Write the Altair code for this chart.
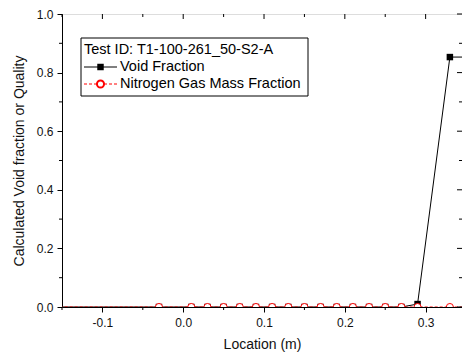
import altair as alt
import pandas as pd

# ---- data ----
location = [-0.19, -0.03, 0.01, 0.03, 0.05, 0.07, 0.09, 0.11, 0.13, 0.15,
            0.17, 0.19, 0.21, 0.23, 0.25, 0.27, 0.29, 0.33, 0.37]
void_fraction = [0.0, 0.0, 0.0, 0.0, 0.0, 0.0, 0.0, 0.0, 0.0, 0.0,
                 0.0, 0.0, 0.0, 0.0, 0.0, 0.0, 0.01, 0.853, 0.853]
nitrogen_fraction = [0.0] * 19

x_major = [-0.1, 0.0, 0.1, 0.2, 0.3]
x_minor = [-0.15, -0.05, 0.05, 0.15, 0.25]
y_major = [0.0, 0.2, 0.4, 0.6, 0.8, 1.0]
y_minor = [0.1, 0.3, 0.5, 0.7, 0.9]

legend_title = "Test ID: T1-100-261_50-S2-A"
legend_labels = ["Void Fraction", "Nitrogen Gas Mass Fraction"]

W, H = 400, 293
FONT = "Liberation Sans"
LFS = 14.5
LBL = "datum.value < 0 ? '-' + format(-datum.value, '.1f') : format(datum.value, '.1f')"

one = pd.DataFrame({"a": [0]})

xs = alt.Scale(domain=[-0.15, 0.345], nice=False, zero=False)
ys = alt.Scale(domain=[0, 1], nice=False, zero=False)

x_axis = alt.Axis(title="Location (m)", values=x_major, labelExpr=LBL, tickSize=5,
                  tickColor="black", domainColor="black", labelFontSize=12,
                  labelColor="#111111", titleFontSize=14, titleFontWeight="normal",
                  titleColor="#111111", labelPadding=5, titlePadding=9, grid=False,
                  labelFlush=False, labelFont=FONT, titleFont=FONT)
y_axis = alt.Axis(title="Calculated Void fraction or Quality", values=y_major, labelExpr=LBL,
                  tickSize=5, tickColor="black", domainColor="black", labelFontSize=12,
                  labelColor="#111111", titleFontSize=14, titleFontWeight="normal",
                  titleColor="#111111", labelPadding=4, titlePadding=10, grid=False,
                  labelFlush=False, labelFont=FONT, titleFont=FONT)

X = alt.X("loc:Q", scale=xs, axis=x_axis)
Y = alt.Y("val:Q", scale=ys, axis=y_axis)

void_df = pd.DataFrame({"loc": location, "val": void_fraction})
n2_df = pd.DataFrame({"loc": location, "val": nitrogen_fraction})

void_line = alt.Chart(void_df).mark_line(color="black", strokeWidth=1, clip=True).encode(x=X, y=Y)
void_pts = alt.Chart(void_df).mark_point(shape="square", filled=True, color="black", size=42,
                                         opacity=1, clip=True).encode(x=X, y=Y)
n2_line = alt.Chart(n2_df).mark_line(color="red", strokeWidth=1, strokeDash=[3, 2], clip=True).encode(x=X, y=Y)
n2_pts = alt.Chart(n2_df).mark_point(shape="circle", filled=False, stroke="red", fill="white",
                                     fillOpacity=1, strokeWidth=1, size=50, opacity=1,
                                     clip=True).encode(x=X, y=Y)

# ---- axis furniture: minor ticks (bottom/left, outward), mirror ticks (top/right, inward)
xmaj_df = pd.DataFrame({"loc": x_major})
xmin_df = pd.DataFrame({"loc": x_minor})
ymaj_df = pd.DataFrame({"val": y_major})
ymin_df = pd.DataFrame({"val": y_minor})

bottom_minor = alt.Chart(xmin_df).mark_rule(color="black", strokeWidth=1).encode(
    x=X, y=alt.value(H), y2=alt.value(H + 3))
top_major = alt.Chart(xmaj_df).mark_rule(color="black", strokeWidth=1).encode(
    x=X, y=alt.value(0), y2=alt.value(5))
top_minor = alt.Chart(xmin_df).mark_rule(color="black", strokeWidth=1).encode(
    x=X, y=alt.value(0), y2=alt.value(3))
left_minor = alt.Chart(ymin_df).mark_rule(color="black", strokeWidth=1).encode(
    y=Y, x=alt.value(-3), x2=alt.value(0))
right_major = alt.Chart(ymaj_df).mark_rule(color="black", strokeWidth=1).encode(
    y=Y, x=alt.value(W - 5), x2=alt.value(W))
right_minor = alt.Chart(ymin_df).mark_rule(color="black", strokeWidth=1).encode(
    y=Y, x=alt.value(W - 3), x2=alt.value(W))

# ---- legend box ----
leg_box = alt.Chart(one).mark_rect(fill="white", stroke="black", strokeWidth=1).encode(
    x=alt.value(19), x2=alt.value(246), y=alt.value(24), y2=alt.value(82))
leg_title = alt.Chart(one).mark_text(align="left", baseline="middle", fontSize=LFS, font=FONT,
                                     color="black").encode(
    x=alt.value(22), y=alt.value(36), text=alt.value(legend_title))
leg_l1 = alt.Chart(one).mark_rule(color="black", strokeWidth=1).encode(
    x=alt.value(22), x2=alt.value(55), y=alt.value(53))
leg_p1 = alt.Chart(one).mark_point(shape="square", filled=True, color="black", size=42,
                                   opacity=1).encode(x=alt.value(38.5), y=alt.value(53))
leg_t1 = alt.Chart(one).mark_text(align="left", baseline="middle", fontSize=LFS, font=FONT,
                                  color="black").encode(
    x=alt.value(58), y=alt.value(53), text=alt.value(legend_labels[0]))
leg_l2 = alt.Chart(one).mark_rule(color="red", strokeWidth=1, strokeDash=[3, 2]).encode(
    x=alt.value(22), x2=alt.value(55), y=alt.value(70))
leg_p2 = alt.Chart(one).mark_point(shape="circle", filled=False, stroke="red", fill="white",
                                   fillOpacity=1, size=50, opacity=1).encode(
    x=alt.value(38.5), y=alt.value(70))
leg_t2 = alt.Chart(one).mark_text(align="left", baseline="middle", fontSize=LFS, font=FONT,
                                  color="black").encode(
    x=alt.value(58), y=alt.value(70), text=alt.value(legend_labels[1]))

chart = alt.layer(
    void_line, void_pts, n2_line, n2_pts,
    bottom_minor, top_major, top_minor, left_minor, right_major, right_minor,
    leg_box, leg_title, leg_l1, leg_p1, leg_t1, leg_l2, leg_p2, leg_t2,
).properties(
    width=W, height=H,
    autosize=alt.AutoSizeParams(type="none"),
    padding={"left": 62, "top": 14, "right": 0, "bottom": 49},
).configure_view(
    stroke="black", strokeWidth=1
).configure(
    background="white", font=FONT
)

chart.save("out.html", embed_options={"renderer": "svg", "actions": False})
